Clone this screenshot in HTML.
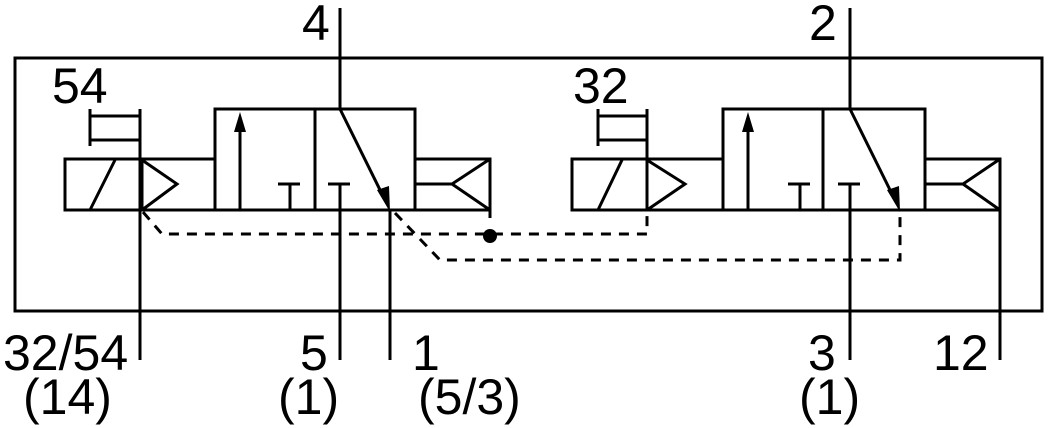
<!DOCTYPE html>
<html><head><style>body{margin:0;background:#fff}svg{display:block}</style></head><body>
<svg width="1056" height="428" viewBox="0 0 1056 428" xmlns="http://www.w3.org/2000/svg">
<g fill="none" stroke="#000" stroke-width="3">
<rect x="15" y="58" width="1027" height="253"/>
<rect x="65" y="159" width="77" height="51"/>
<line x1="90" y1="210" x2="115" y2="160"/>
<polyline points="142,160 177,184 142,210"/>
<line x1="142" y1="159" x2="215" y2="159"/>
<line x1="142" y1="210" x2="215" y2="210"/>
<line x1="90" y1="109" x2="90" y2="146"/>
<line x1="90" y1="116" x2="140" y2="116"/>
<line x1="90" y1="140" x2="140" y2="140"/>
<line x1="140" y1="109" x2="140" y2="360"/>
<rect x="215" y="109" width="100" height="101"/>
<rect x="315" y="109" width="100" height="101"/>
<line x1="240" y1="210" x2="240" y2="125"/>
<line x1="278" y1="184" x2="300" y2="184"/><line x1="290" y1="184" x2="290" y2="210"/>
<line x1="328" y1="184" x2="350" y2="184"/><line x1="340" y1="184" x2="340" y2="360"/>
<line x1="340" y1="8" x2="340" y2="109"/>
<line x1="340" y1="109" x2="385" y2="200"/>
<line x1="390" y1="210" x2="390" y2="360"/>
<rect x="415" y="159" width="75" height="51"/>
<line x1="415" y1="184" x2="452" y2="184"/>
<polyline points="490,159 452,184 490,210"/>
<line x1="490" y1="210" x2="490" y2="218"/>
<rect x="572" y="159" width="75" height="51"/>
<line x1="598" y1="210" x2="622" y2="160"/>
<polyline points="647,160 685,184 647,210"/>
<line x1="647" y1="159" x2="723" y2="159"/>
<line x1="647" y1="210" x2="723" y2="210"/>
<line x1="598" y1="109" x2="598" y2="146"/>
<line x1="598" y1="116" x2="647" y2="116"/>
<line x1="598" y1="140" x2="647" y2="140"/>
<line x1="647" y1="109" x2="647" y2="210"/>
<rect x="723" y="109" width="100" height="101"/>
<rect x="823" y="109" width="102" height="101"/>
<line x1="748" y1="210" x2="748" y2="125"/>
<line x1="788" y1="184" x2="810" y2="184"/><line x1="800" y1="184" x2="800" y2="210"/>
<line x1="838" y1="184" x2="860" y2="184"/><line x1="850" y1="184" x2="850" y2="360"/>
<line x1="850" y1="8" x2="850" y2="109"/>
<line x1="850" y1="109" x2="895" y2="200"/>
<rect x="925" y="159" width="75" height="51"/>
<line x1="925" y1="184" x2="963" y2="184"/>
<polyline points="1000,159 963,184 1000,210"/>
<line x1="1000" y1="159" x2="1000" y2="360"/>
<g stroke-dasharray="10,8">
<polyline points="143,212 162,234 647,234 647,212"/>
<polyline points="395,213 440,260 900,260 900,212"/>
</g>
</g>
<polygon points="240,112 234,132 246,132" fill="#000"/>
<polygon points="390,212 377,190 389,186" fill="#000"/>
<polygon points="748,112 742,132 754,132" fill="#000"/>
<polygon points="900,212 887,190 899,186" fill="#000"/>
<circle cx="490" cy="236" r="7" fill="#000"/>
<g font-family="Liberation Sans, sans-serif" font-size="50" fill="#000">
<text x="302" y="40">4</text>
<text x="809" y="40">2</text>
<text x="52" y="103">54</text>
<text x="573" y="103">32</text>
<text x="3" y="370">32/54</text>
<text x="23" y="414">(14)</text>
<text x="300" y="370">5</text>
<text x="278" y="414">(1)</text>
<text x="412" y="370">1</text>
<text x="418" y="414">(5/3)</text>
<text x="808" y="370">3</text>
<text x="799" y="414">(1)</text>
<text x="933" y="370">12</text>
</g>
</svg>
</body></html>
